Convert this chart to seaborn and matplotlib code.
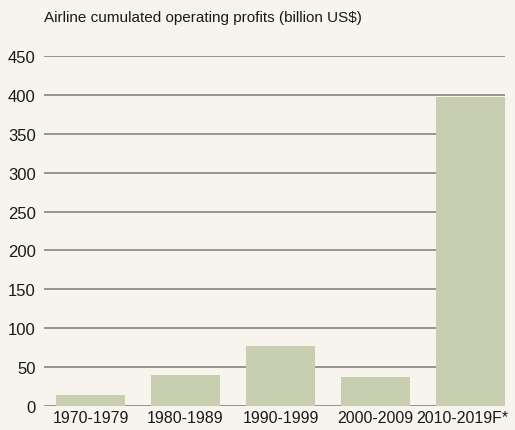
import matplotlib
matplotlib.use("Agg")
import matplotlib.pyplot as plt
import matplotlib.transforms as mtransforms
import seaborn as sns
import pandas as pd

# data
decades = ["1970-1979", "1980-1989", "1990-1999", "2000-2009", "2010-2019F*"]
profits = [14, 40, 77, 37, 397]
yticks = [0, 50, 100, 150, 200, 250, 300, 350, 400, 450]

bg = "#f7f4ee"
bar_col = "#c8cfb0"

sns.set_theme(style="white")
plt.rcParams['font.family'] = ['Liberation Sans', 'DejaVu Sans']

df = pd.DataFrame({"decade": decades, "profit": profits})

fig = plt.figure(figsize=(5.15, 4.31), dpi=100, facecolor=bg)
ax = fig.add_axes([0.0854, 0.0557, 0.8952, 0.812])
ax.set_facecolor(bg)

sns.barplot(data=df, x="decade", y="profit", color=bar_col, width=0.726,
            saturation=1, linewidth=0, ax=ax, zorder=3)

for v in yticks:
    ax.axhline(v, color="#858585", lw=1.2, zorder=1)

ax.set_ylim(0, 450)
ax.set_xlim(-0.49, 4.363)
ax.set_yticks(yticks)
ax.set_xlabel("")
ax.set_ylabel("")
for s in ax.spines.values():
    s.set_visible(False)
ax.tick_params(axis="y", length=0, pad=6, labelsize=12, labelcolor="#1a1a1a")
ax.tick_params(axis="x", length=0, pad=3, labelsize=11.5, labelcolor="#1a1a1a")

# last label sits a bit left so it stays inside the figure
last = ax.get_xticklabels()[-1]
last.set_transform(last.get_transform() +
                   mtransforms.ScaledTranslation(-8 / 100, 0, fig.dpi_scale_trans))

fig.text(44 / 515, 1 - 18 / 431, "Airline cumulated operating profits (billion US$)",
         fontsize=11, color="#1a1a1a", va="center", ha="left")

fig.savefig("out.png", dpi=100, facecolor=bg)
